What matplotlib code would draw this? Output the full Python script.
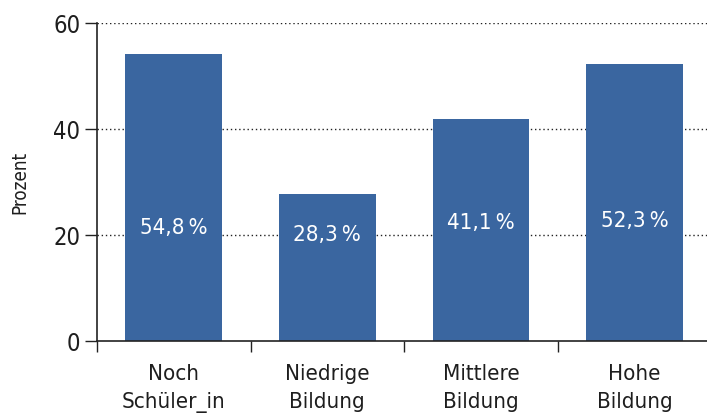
import matplotlib
matplotlib.use("Agg")
import matplotlib.pyplot as plt
from matplotlib import font_manager as fm

categories = ["Noch\nSchüler_in", "Niedrige\nBildung", "Mittlere\nBildung", "Hohe\nBildung"]
bar_values = [54.1, 27.7, 41.8, 52.2]
value_labels = ["54,8\u2009%", "28,3\u2009%", "41,1\u2009%", "52,3\u2009%"]
label_heights = [21.5, 20.2, 22.4, 22.8]
yticks = [0, 20, 40, 60]

# look for a condensed regular face
cond = None
for f in fm.fontManager.ttflist:
    nm = (f.name + " " + str(f.fname)).lower()
    is_cond = ("condensed" in nm or "narrow" in nm or str(f.stretch) in ("condensed", "semi-condensed", "extra-condensed"))
    if is_cond and f.weight in (400, "normal", "regular") and f.style == "normal":
        if "oblique" in nm or "bold" in nm or "italic" in nm:
            continue
        cond = f.fname
        break

if cond:
    def FP(size):
        return fm.FontProperties(fname=cond, size=size)
else:
    def FP(size):
        return fm.FontProperties(family=["Open Sans", "DejaVu Sans"], size=size * 0.82)

fig = plt.figure(figsize=(7.07, 4.14), dpi=100)
ax = fig.add_axes([0.137, 0.174, 0.865, 0.769])

x = list(range(len(categories)))
ax.bar(x, bar_values, width=0.63, color="#3A66A0", zorder=2)
for xi, lab, h in zip(x, value_labels, label_heights):
    ax.text(xi, h, lab, color="white", ha="center", va="center", fontproperties=FP(16), zorder=3)

ax.set_ylim(0, 60)
ax.set_xlim(-0.5, 3.48)
ax.set_yticks(yticks)
ax.set_yticklabels([str(v) for v in yticks], fontproperties=FP(17), color="#1e1e1e")
for v in yticks[1:]:
    ax.axhline(v, color="#222222", linestyle=(0, (1, 2)), linewidth=1.0, zorder=1)

ax.set_xticks([i - 0.5 for i in x])
ax.set_xticklabels([])
ax.set_xticks(x, minor=True)
ax.set_xticklabels(categories, minor=True, fontproperties=FP(16), color="#1e1e1e", linespacing=1.5)
ax.tick_params(axis="x", which="major", length=8, width=1.0, direction="out", color="#222222")
ax.tick_params(axis="x", which="minor", length=0, pad=16)
ax.tick_params(axis="y", length=9, width=1.0, direction="out", color="#222222", pad=3)

ax.set_ylabel("Prozent", fontproperties=FP(13.5), color="#1e1e1e", labelpad=17)

for s in ["top", "right"]:
    ax.spines[s].set_visible(False)
for s in ["left", "bottom"]:
    ax.spines[s].set_color("#222222")
    ax.spines[s].set_linewidth(1.2)
ax.spines["left"].set_bounds(0, 60)

fig.savefig("out.png", dpi=100)
